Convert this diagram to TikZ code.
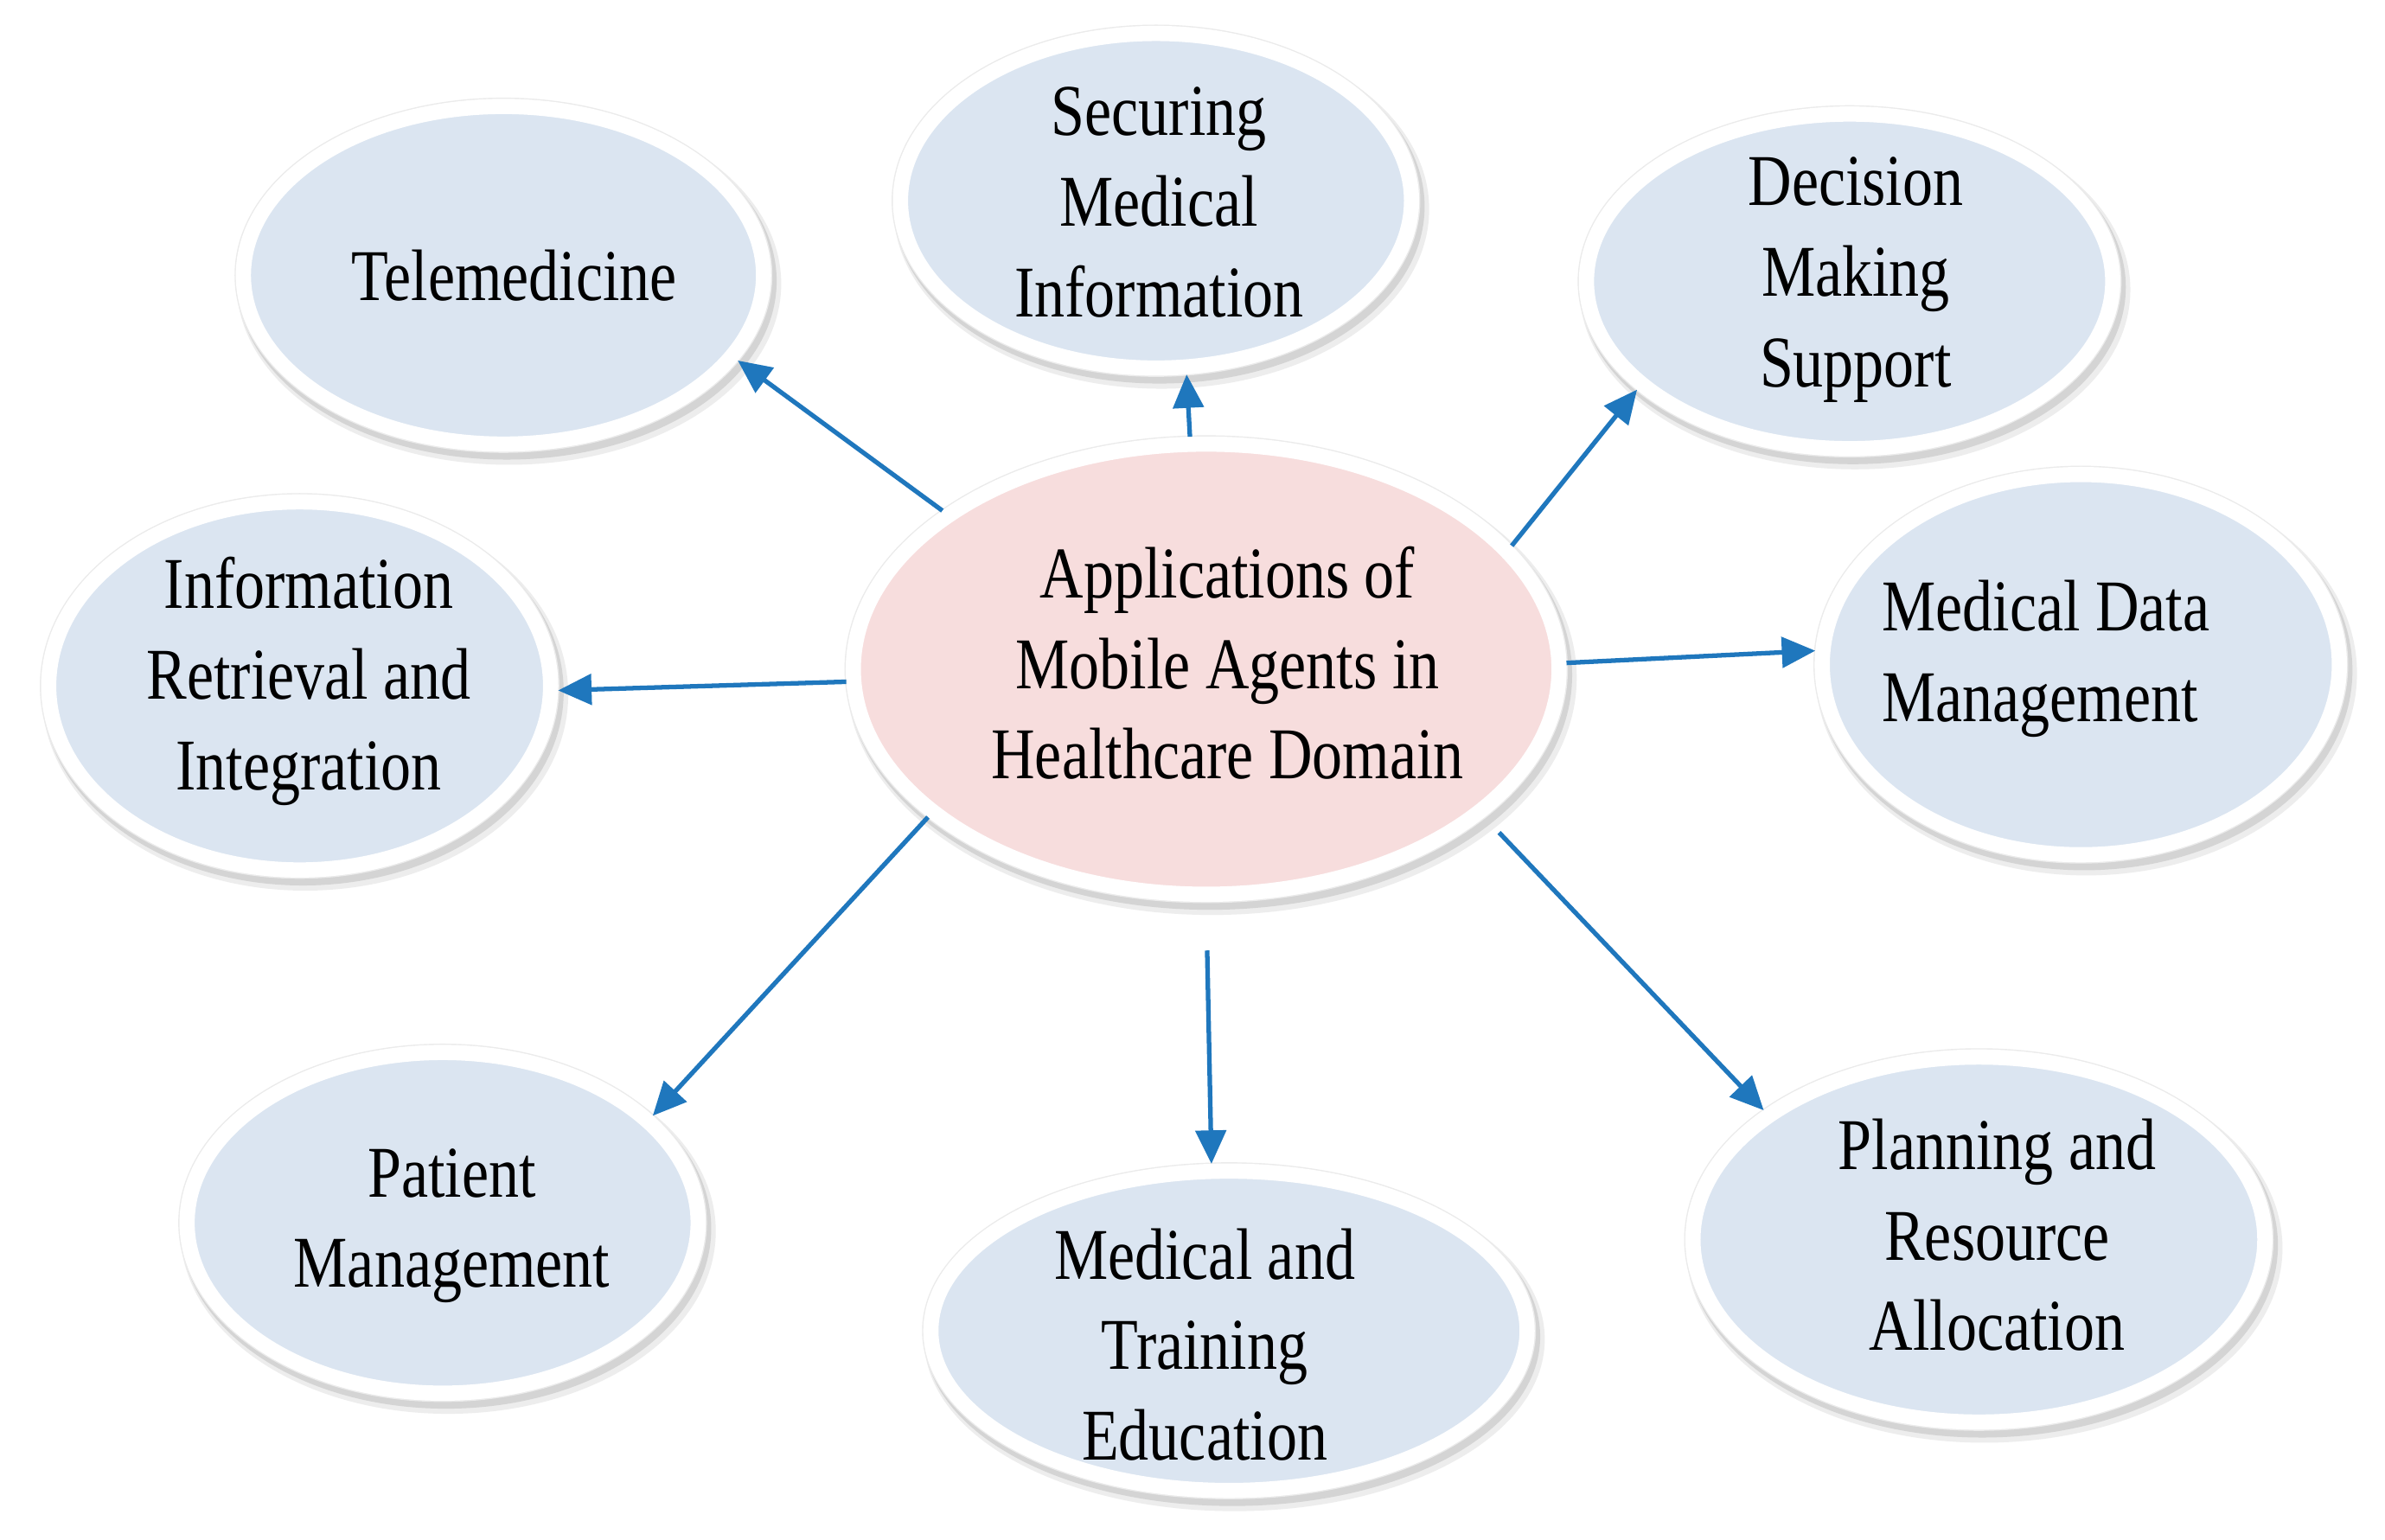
\documentclass[tikz,border=0pt]{standalone}
\usepackage{fontspec}
\setmainfont{Liberation Serif}[FakeStretch=0.83]
\usetikzlibrary{arrows.meta,shapes.geometric}
\definecolor{bubblue}{RGB}{219,229,241}
\definecolor{bubpink}{RGB}{247,221,221}
\definecolor{arrblue}{RGB}{31,119,189}
\begin{document}
\begin{tikzpicture}[x=0.0176cm,y=-0.0176cm,
  bub/.style 2 args={ellipse, inner sep=0pt,
    minimum width={(2*#1+10)*0.0176cm}, minimum height={(2*#2+10)*0.0176cm},
    preaction={draw=black!7, line width=8pt, transform canvas={xshift=1.8pt,yshift=-2.8pt}},
    preaction={draw=black!17, line width=6.4pt, transform canvas={xshift=1.1pt,yshift=-1.9pt}},
    preaction={draw=black!8, line width=5.8pt},
    draw=white, line width=5pt, fill=bubblue},
  lbl/.style={align=center, inner sep=0pt, font=\fontsize{24}{29.8}\selectfont},
  arr/.style={draw=arrblue, line width=1.5pt, -{Triangle[length=11pt,width=10pt]}}]
\fill[white] (0,0) rectangle (1568,1012);
\useasboundingbox (0,0) rectangle (1568,1012);

\node[bub={166}{106}] (tel) at (331,181) {};
\node[bub={163}{105}] (sec) at (760,132) {};
\node[bub={168}{105}] (dec) at (1216,185) {};
\node[bub={160}{116}] (inf) at (197,451) {};
\node[bub={227}{143}, fill=bubpink] (app) at (793,440) {};
\node[bub={165}{120}] (mdm) at (1368,437) {};
\node[bub={163}{107}] (pat) at (291,804) {};
\node[bub={191}{100}] (mte) at (808,875) {};
\node[bub={183}{115}] (pla) at (1301,815) {};

\draw[arr] (app.149.7) -- (tel.-20.9);
\draw[arr] (app.94.9) -- (sec.-80.8);
\draw[arr] (app.22.8) -- (dec.207.2);
\draw[arr] (app.182.4) -- (inf.-1.4);
\draw[arr] (app.1.7) -- (mdm.177.3);
\draw[arr] (app.208.2) -- (pat.27.5);
\draw[arr, shorten <=16pt] (app.-90.9) -- (mte.96.4);
\draw[arr, shorten <=7pt] (app.-28.3) -- (pla.149.4);

\node[lbl] (telT) at (338,181) {Telemedicine};
\node[lbl] (secT) at (762,133) {Securing\\Medical\\Information};
\node[lbl] (decT) at (1220,184) {Decision\\Making\\Support};
\node[lbl] (infT) at (203,448) {Information\\Retrieval and\\Integration};
\node[lbl] (appT) at (807,436) {Applications of\\Mobile Agents in\\Healthcare Domain};
\node[lbl, align=left] (mdmT) at (1345,433) {Medical Data\\Management};
\node[lbl] (patT) at (297,806) {Patient\\Management};
\node[lbl] (mteT) at (792,884) {Medical and\\Training\\Education};
\node[lbl] (plaT) at (1313,812) {Planning and\\Resource\\Allocation};
\end{tikzpicture}
\end{document}
